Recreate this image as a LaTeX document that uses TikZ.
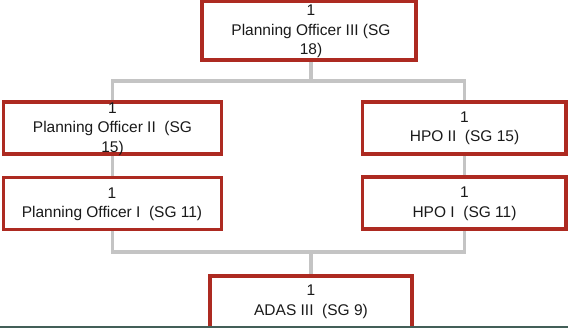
\documentclass[tikz,border=0pt]{standalone}
\usepackage{fontspec}
\setmainfont{Liberation Sans}
\definecolor{boxred}{HTML}{AD2A21}
\definecolor{linkgray}{HTML}{C4C4C4}
\definecolor{basestrip}{HTML}{435F58}
\definecolor{txt}{HTML}{1A1A1A}
\pgfdeclarelayer{links}
\pgfsetlayers{links,main}
\begin{document}
\begin{tikzpicture}[x=1pt,y=-1pt,
  posbox/.style={draw=boxred, line width=3.8pt, fill=white, inner sep=0pt,
    minimum width=#1, minimum height=52pt},
  lbl/.style={align=center, inner sep=0pt, text=txt,
    font=\fontsize{15.5}{19.5}\selectfont},
  conn/.style={draw=linkgray, line width=3.4pt}]
\useasboundingbox (0,0) rectangle (568,328);

% junction points of the connector tree
\coordinate (j1) at (311,81);
\coordinate (j2) at (311,252);

% position boxes
\node[posbox=214pt, minimum height=58.5pt] (T) at (309,30.75) {};
\node[posbox=218pt] (L1) at (112.5,127.75) {};
\node[posbox=218pt] (L2) at (112.5,203.5) {};
\node[posbox=203.5pt] (R1) at (464.25,128) {};
\node[posbox=203.5pt] (R2) at (464.25,203.25) {};
\node[posbox=202pt] (B) at (311,302) {};

% connectors, kept behind the boxes
\begin{pgfonlayer}{links}
\fill[white] (0,0) rectangle (568,328);
\path[conn] (T.south -| j1) -- (j1);
\path[conn] (L1.north) |- (j1) -| (R1.north);
\path[conn] (L1.south) -- (L2.north);
\path[conn] (R1.south) -- (R2.north);
\path[conn] (L2.south) |- (j2) -| (R2.south);
\path[conn] (j2) -- (B.north);
\end{pgfonlayer}

% labels
\node[lbl] (Tt) at (311,31.5) {1\\Planning Officer III (SG\\18)};
\node[lbl] (L1t) at (112.5,129) {1\\Planning Officer II~ (SG\\15)};
\node[lbl] (L2t) at (112,204.5) {1\\Planning Officer I~ (SG 11)};
\node[lbl] (R1t) at (464.5,128.5) {1\\HPO II~ (SG 15)};
\node[lbl] (R2t) at (464.5,204) {1\\HPO I~ (SG 11)};
\node[lbl] (Bt) at (311,302) {1\\ADAS III~ (SG 9)};

% dark strip along the lower edge
\fill[basestrip] (0,326) rectangle (568,328);
\end{tikzpicture}
\end{document}
